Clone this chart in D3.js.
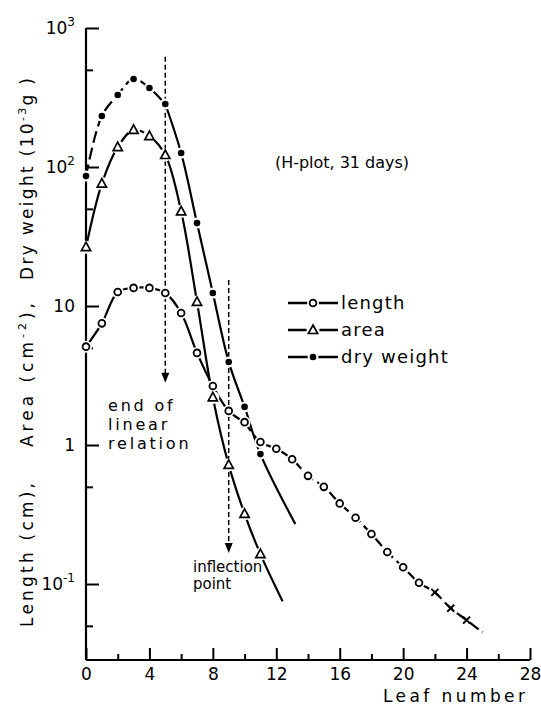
<!DOCTYPE html>
<html><head><meta charset="utf-8">
<script src="https://cdn.jsdelivr.net/npm/d3@7/dist/d3.min.js"></script>
<style>
body{margin:0;background:#fff;}
svg{display:block;}
text{font-family:"DejaVu Sans",sans-serif;fill:#000;}
</style></head>
<body>
<svg id="c" width="541" height="711"></svg>
<script>
// ---- data ----
const lengthN   = [0,1,2,3,4,5,6,7,8,9,10,11,12,13,14,15,16,17,18,19,20,21];
const lengthVal = [5.1,7.5,12.6,13.5,13.5,12.4,8.9,4.6,2.66,1.76,1.46,1.05,0.94,0.79,0.60,0.50,0.38,0.30,0.229,0.17,0.132,0.102];
const lengthCrossN   = [22,23,24];
const lengthCrossVal = [0.087,0.067,0.055];
const lengthTailN   = [25];
const lengthTailVal = [0.045];

const areaN   = [0,1,2,3,4,5,6,7,8,9,10,11];
const areaVal = [26.5,76,139,185,167,122,48,10.7,2.2,0.72,0.32,0.164];
const areaTailN   = [12.4];
const areaTailVal = [0.075];

const dryN   = [0,1,2,3,4,5,6,7,8,9,10,11];
const dryVal = [86,233,330,430,370,284,126,39.5,12.4,3.96,1.88,0.86];
const dryTailN   = [13.2];
const dryTailVal = [0.27];

const xMajorTicks = [0,4,8,12,16,20,24,28];
const xMinorTicks = [2,6,10,14,18,22,26];
const yMajorTicks = [0.1,1,10,100,1000];
const yMajorLabels = [["10","-1"],["1",""],["10",""],["10","2"],["10","3"]];
const yMinorTicks = [0.05,0.5,5,50,500];

// annotation arrows: leaf number, from value, to value
const arrowX    = [5, 9];
const arrowFrom = [620, 15.4];
const arrowTo   = [2.8, 0.167];

const legendLabels = ["length","area","dry weight"];

// ---- scales ----
const svg = d3.select("#c");
const x = d3.scaleLinear().domain([0,28]).range([86,530]);
const y = d3.scaleLog().domain([0.0284,1000]).range([660,28]);

const K = "#000";
// ---- axes ----
const gx = svg.append("g").attr("transform","translate(0,660)")
  .call(d3.axisBottom(x).tickValues(xMajorTicks).tickSize(-12).tickPadding(8).tickFormat(d3.format("d")));
const gxm = svg.append("g").attr("transform","translate(0,660)")
  .call(d3.axisBottom(x).tickValues(xMinorTicks).tickSize(-6).tickFormat(""));
gxm.select(".domain").remove();
const gy = svg.append("g").attr("transform","translate(86,0)")
  .call(d3.axisLeft(y).tickValues(yMajorTicks).tickSize(-13).tickFormat(""));
const gym = svg.append("g").attr("transform","translate(86,0)")
  .call(d3.axisLeft(y).tickValues(yMinorTicks).tickSize(-7).tickFormat(""));
gym.select(".domain").remove();
svg.selectAll(".domain").attr("stroke",K).attr("stroke-width",2.2);
svg.selectAll(".tick line").attr("stroke",K).attr("stroke-width",2);
gx.selectAll(".tick text").attr("font-size",17).attr("font-family","DejaVu Sans").attr("fill",K);
gy.select(".domain").attr("d","M0,660V28");
gx.select(".domain").attr("d","M86,0H530");

// y labels with superscripts
yMajorTicks.forEach((v,i)=>{
  const t = svg.append("text").attr("x",75).attr("y",y(v)+6).attr("text-anchor","end").attr("font-size",17);
  t.append("tspan").text(yMajorLabels[i][0]);
  if(yMajorLabels[i][1]) t.append("tspan").attr("font-size",12).attr("dy",-8).text(yMajorLabels[i][1]);
});

// axis titles
svg.append("text").attr("x",x(28)-5).attr("y",702).attr("text-anchor","end")
  .attr("font-size",17).attr("textLength",142).attr("lengthAdjust","spacing").text("Leaf  number");

function vtext(yStart, len, parts){
  const t = svg.append("text").attr("transform",`translate(33,${yStart}) rotate(-90)`)
    .attr("font-size",17).attr("textLength",len).attr("lengthAdjust","spacing");
  parts.forEach(p=>{
    const s = t.append("tspan").text(p[0]);
    if(p[1]==="sup") s.attr("font-size",11).attr("dy",-7);
    if(p[1]==="down") s.attr("dy",7);
  });
}
vtext(627,144,[["Length (cm),"]]);
vtext(447,144,[["Area (cm"],["-2","sup"],[")," ,"down"]]);
vtext(280,202,[["Dry weight (10"],["-3","sup"],["g )","down"]]);

// ---- lines ----
const line = d3.line().x(d=>x(d[0])).y(d=>y(d[1])).curve(d3.curveCatmullRom.alpha(0.5));
const zip = (a,b)=>a.map((v,i)=>[v,b[i]]);

const lenPts = zip(lengthN,lengthVal).concat(zip(lengthCrossN,lengthCrossVal), zip(lengthTailN,lengthTailVal));
const areaPts = zip(areaN,areaVal).concat(zip(areaTailN,areaTailVal));
const dryPts = zip(dryN,dryVal).concat(zip(dryTailN,dryTailVal));

function drawLine(pts, dash){
  return svg.append("path").attr("d",line(pts)).attr("fill","none").attr("stroke",K)
    .attr("stroke-width",2.2).attr("stroke-dasharray",dash||null);
}
// length: solid up to 10, dashed afterwards
drawLine(lenPts.slice(0,11));
drawLine(lenPts.slice(10),"11,5");
drawLine(areaPts);
drawLine(dryPts.slice(0,6),"12,5");
drawLine(dryPts.slice(5));

// ---- vertical dashed annotation arrows ----
arrowX.forEach((n,i)=>{
  svg.append("line").attr("x1",x(n)).attr("x2",x(n)).attr("y1",y(arrowFrom[i])).attr("y2",y(arrowTo[i])-8)
    .attr("stroke",K).attr("stroke-width",1.5).attr("stroke-dasharray","5,3");
  const tx=x(n), ty=y(arrowTo[i]);
  svg.append("path").attr("d",`M${tx-4},${ty-10}L${tx+4},${ty-10}L${tx},${ty}Z`).attr("fill",K);
});

// ---- markers ----
function circleM(g, cx, cy){
  g.append("circle").attr("cx",cx).attr("cy",cy).attr("r",6).attr("fill","#fff");
  g.append("circle").attr("cx",cx).attr("cy",cy).attr("r",3.4).attr("fill","#fff").attr("stroke",K).attr("stroke-width",1.8);
}
function triM(g, cx, cy){
  g.append("circle").attr("cx",cx).attr("cy",cy).attr("r",6.5).attr("fill","#fff");
  g.append("path").attr("d",`M${cx},${cy-5}L${cx+4.6},${cy+3.5}L${cx-4.6},${cy+3.5}Z`)
    .attr("fill","#fff").attr("stroke",K).attr("stroke-width",1.7);
}
function dotM(g, cx, cy){
  g.append("circle").attr("cx",cx).attr("cy",cy).attr("r",5.5).attr("fill","#fff");
  g.append("circle").attr("cx",cx).attr("cy",cy).attr("r",3.3).attr("fill",K);
}
function crossM(g, cx, cy){
  g.append("path").attr("d",`M${cx-3.5},${cy-3.5}L${cx+3.5},${cy+3.5}M${cx+3.5},${cy-3.5}L${cx-3.5},${cy+3.5}`)
    .attr("stroke",K).attr("stroke-width",2);
}
const gm = svg.append("g");
lengthN.forEach((n,i)=>circleM(gm,x(n),y(lengthVal[i])));
lengthCrossN.forEach((n,i)=>crossM(gm,x(n),y(lengthCrossVal[i])));
areaN.forEach((n,i)=>triM(gm,x(n),y(areaVal[i])));
dryN.forEach((n,i)=>dotM(gm,x(n),y(dryVal[i])));

// ---- legend ----
const legY = [303,330,357];
const legMark = [circleM, triM, dotM];
legendLabels.forEach((lab,i)=>{
  const ly = legY[i];
  svg.append("line").attr("x1",288).attr("x2",338).attr("y1",ly).attr("y2",ly).attr("stroke",K).attr("stroke-width",2.4);
  legMark[i](svg,313,ly);
  svg.append("text").attr("x",341).attr("y",ly+6).attr("font-size",18).attr("letter-spacing",1.2).text(lab);
});

// ---- annotations ----
svg.append("text").attr("x",275).attr("y",168).attr("font-size",16).attr("textLength",134).attr("lengthAdjust","spacing").text("(H-plot, 31 days)");
const endLines = ["end of","linear","relation"];
endLines.forEach((s,i)=>svg.append("text").attr("x",108).attr("y",411+i*19).attr("font-size",16).attr("letter-spacing",2.8).text(s));
const inflLines = ["inflection","point"];
inflLines.forEach((s,i)=>svg.append("text").attr("x",193).attr("y",572+i*17).attr("font-size",15).text(s));
</script>
</body></html>
